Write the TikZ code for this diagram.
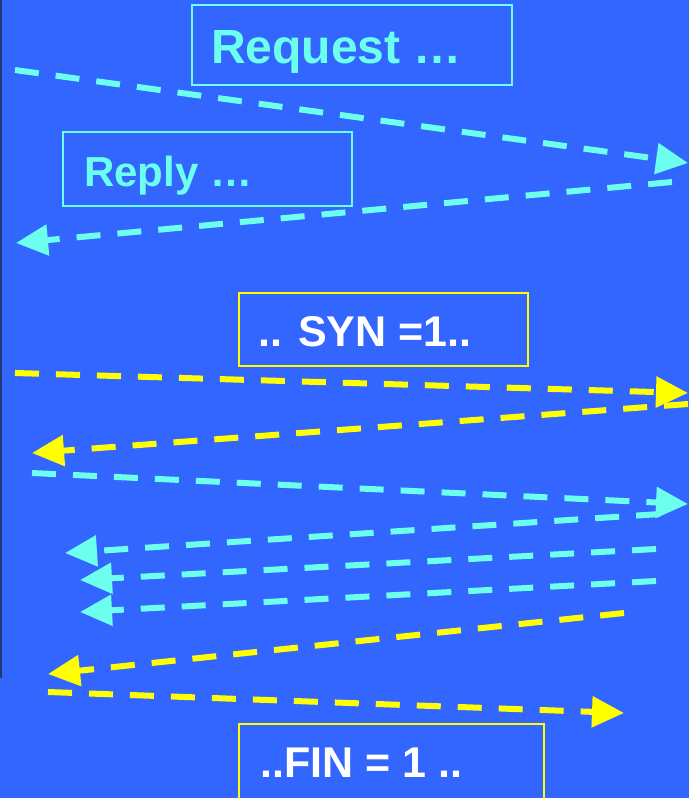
\documentclass[tikz,border=0pt]{standalone}
\usepackage{fontspec}
\setmainfont{Liberation Sans}
\usetikzlibrary{arrows.meta}
\definecolor{bg}{HTML}{3366FF}
\definecolor{cy}{HTML}{6CFFEE}
\definecolor{yl}{HTML}{FFFF00}
\definecolor{edge}{HTML}{1E3A70}
\begin{document}
\begin{tikzpicture}[x=1pt,y=-1pt,
  boxc/.style={draw=cy,line width=2pt,inner sep=0pt},
  boxy/.style={draw=yl,line width=2pt,inner sep=0pt},
  lab/.style={anchor=base west,inner sep=0pt},
  msg/.style={line width=6pt,dash pattern=on 24pt off 17pt,-{Triangle[length=32pt,width=30pt]}},
  msgc/.style={msg,draw=cy},
  msgy/.style={msg,draw=yl}]
\fill[bg] (0,0) rectangle (689,798);
\useasboundingbox (0,0) rectangle (689,798);
\draw[edge,line width=2pt] (1,0) -- (1,678);
% boxes
\node[boxc,minimum width=320pt,minimum height=80pt] (reqbox) at (352,45) {};
\node[lab,text=cy,font=\bfseries\fontsize{48}{50}\selectfont] (reqtxt) at (211,63) {Request …};
\node[boxc,minimum width=289pt,minimum height=74pt] (repbox) at (207.5,169) {};
\node[lab,text=cy,font=\bfseries\fontsize{42}{44}\selectfont] (reptxt) at (84,186) {Reply …};
\node[boxy,minimum width=289pt,minimum height=73pt] (synbox) at (383.5,329.5) {};
\node[lab,text=white,font=\bfseries\fontsize{43}{46}\selectfont] (syntxt) at (258,346) {.. SYN =1..};
\node[boxy,minimum width=305pt,minimum height=80pt] (finbox) at (391.5,764) {};
\node[lab,text=white,font=\bfseries\fontsize{43}{45}\selectfont] (fintxt) at (260,777) {..FIN = 1 ..};
% endpoints
\coordinate (a1) at (15,70);   \coordinate (b1) at (688,163);
\coordinate (a2) at (672,182); \coordinate (b2) at (16,243);
\coordinate (a3) at (15,373);  \coordinate (b3) at (688,393);
\coordinate (a4) at (688,404); \coordinate (b4) at (32,453);
\coordinate (a5) at (32,473);  \coordinate (b5) at (688,504);
\coordinate (a6) at (660,514); \coordinate (b6) at (65,553);
\coordinate (a7) at (656,549); \coordinate (b7) at (80,580);
\coordinate (a8) at (656,581); \coordinate (b8) at (80,612);
\coordinate (a9) at (624,613); \coordinate (b9) at (48,674);
\coordinate (a10) at (48,692); \coordinate (b10) at (624,713);
% messages
\draw[msgc] (a1) -- (b1);
\draw[msgc] (a2) -- (b2);
\draw[msgy] (a3) -- (b3);
\draw[msgy] (a4) -- (b4);
\draw[msgc] (a5) -- (b5);
\draw[msgc] (a6) -- (b6);
\draw[msgc] (a7) -- (b7);
\draw[msgc] (a8) -- (b8);
\draw[msgy] (a9) -- (b9);
\draw[msgy] (a10) -- (b10);
\end{tikzpicture}
\end{document}
